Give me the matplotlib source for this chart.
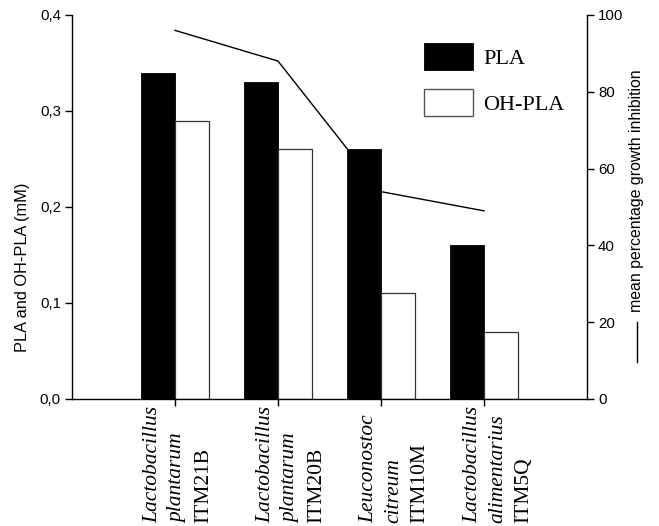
import matplotlib
matplotlib.use("Agg")
import matplotlib.pyplot as plt
import matplotlib.transforms as mtransforms
from matplotlib.lines import Line2D
from matplotlib.patches import Patch
from matplotlib.ticker import FuncFormatter, MultipleLocator

# Strains tested
genus = ["Lactobacillus", "Lactobacillus", "Leuconostoc", "Lactobacillus"]
species = ["plantarum", "plantarum", "citreum", "alimentarius"]
strain = ["ITM21B", "ITM20B", "ITM10M", "ITM5Q"]

# Acid concentrations (mM)
pla = [0.34, 0.33, 0.26, 0.16]
oh_pla = [0.29, 0.26, 0.11, 0.07]

# Mean percentage growth inhibition
inhibition = [96, 88, 54, 49]

SANS = "Liberation Sans"
SERIF = "Liberation Serif"

W, H = 659, 526
fig = plt.figure(figsize=(W / 100, H / 100), dpi=100)
ax = fig.add_axes([72 / W, 1 - 399 / H, (587 - 72) / W, (399 - 15) / H])
ax2 = ax.twinx()

x = list(range(len(strain)))
bw = 0.33

# inhibition line sits behind the bars
ax2.plot(x, inhibition, color="black", lw=1.0)
ax.set_zorder(ax2.get_zorder() + 1)
ax.patch.set_visible(False)

ax.bar([i - bw for i in x], pla, width=bw, align="edge",
       color="black", edgecolor="black", lw=0.6)
ax.bar(x, oh_pla, width=bw, align="edge",
       color="white", edgecolor="#333333", lw=0.9)

ax.set_xlim(-1, 4)
ax.set_ylim(0, 0.4)
ax2.set_ylim(0, 100)

ax.yaxis.set_major_locator(MultipleLocator(0.1))
ax.yaxis.set_major_formatter(FuncFormatter(lambda v, p: f"{v:.1f}".replace(".", ",")))
ax2.yaxis.set_major_locator(MultipleLocator(20))

for a in (ax, ax2):
    a.spines["top"].set_visible(False)
    for s in a.spines.values():
        s.set_linewidth(1.0)
    a.tick_params(direction="out", length=5, width=1.0, labelsize=10.8, pad=3)
    for lab in a.get_yticklabels():
        lab.set_fontfamily(SANS)
ax.spines["right"].set_visible(False)
ax2.spines["left"].set_visible(False)
ax2.spines["bottom"].set_visible(False)

ax.set_xticks(x)
ax.set_xticklabels([])

# rotated strain names under each tick, species in italics
base = mtransforms.blended_transform_factory(ax.transData, fig.transFigure)
nudge = [-11, -1, -1, 0]
for i in x:
    parts = [(genus[i], "italic", -7), (species[i], "italic", 18.5), (strain[i], "normal", 44)]
    for txt, style, dx in parts:
        tr = mtransforms.offset_copy(base, fig=fig, x=dx + nudge[i], y=0, units="dots")
        ax.text(i, 3 / H, txt, transform=tr, rotation=90, rotation_mode="anchor",
                ha="left", va="baseline", fontsize=15.5, fontstyle=style,
                fontfamily=SERIF, clip_on=False)

fig.text(23 / W, 1 - 267 / H, "PLA and OH-PLA (mM)", rotation=90,
         ha="center", va="center", fontsize=11.8, fontfamily=SANS)
fig.text(637 / W, 1 - 191 / H, "mean percentage growth inhibition", rotation=90,
         ha="center", va="center", fontsize=11.4, fontfamily=SANS)
fig.add_artist(Line2D([637 / W, 637 / W], [1 - 322 / H, 1 - 362 / H],
                      transform=fig.transFigure, color="black", lw=1.0))

handles = [Patch(facecolor="black", edgecolor="black", lw=0.6),
           Patch(facecolor="white", edgecolor="#555555", lw=1.0)]
ax.legend(handles, ["PLA", "OH-PLA"], loc="upper left",
          bbox_to_anchor=(424 / W, 1 - 43 / H), bbox_transform=fig.transFigure,
          frameon=False, borderpad=0, borderaxespad=0,
          handlelength=2.2, handleheight=1.5, handletextpad=0.45,
          labelspacing=0.85, prop={"family": SERIF, "size": 16})

fig.savefig("out.png", dpi=100)
